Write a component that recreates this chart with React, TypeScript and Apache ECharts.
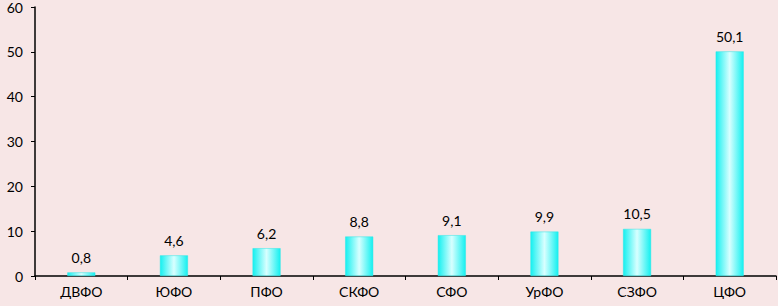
import React, { useEffect, useRef } from "react";
import * as echarts from "echarts";

const categories = ["ДВФО", "ЮФО", "ПФО", "СКФО", "СФО", "УрФО", "СЗФО", "ЦФО"];
const values = [0.8, 4.6, 6.2, 8.8, 9.1, 9.9, 10.5, 50.1];
const yTicks = [0, 10, 20, 30, 40, 50, 60];

export default function App() {
  const ref = useRef<HTMLDivElement>(null);
  useEffect(() => {
    document.body.style.margin = "0";
    const chart = echarts.init(ref.current!, null, { renderer: "svg" });
    const font = "Lato, 'Open Sans', sans-serif";
    chart.setOption({
      animation: false,
      backgroundColor: "#F7E6E6",
      grid: { left: 35, right: 2, top: 5, bottom: 30 },
      xAxis: {
        type: "category",
        data: categories,
        axisLine: { lineStyle: { color: "#000", width: 1.5 } },
        axisTick: { show: true, length: 4, lineStyle: { color: "#000" } },
        axisLabel: { color: "#000", fontSize: 14, fontFamily: font, margin: 8 },
      },
      yAxis: {
        type: "value",
        min: yTicks[0],
        max: yTicks[yTicks.length - 1],
        interval: 10,
        splitLine: { show: false },
        axisLine: { show: true, lineStyle: { color: "#000", width: 1.5 } },
        axisTick: { show: true, length: 4, lineStyle: { color: "#000" } },
        axisLabel: { color: "#000", fontSize: 14, fontFamily: font, margin: 12 },
      },
      series: [
        {
          type: "bar",
          data: values,
          barWidth: 28,
          itemStyle: {
            color: new echarts.graphic.LinearGradient(0, 0, 1, 0, [
              { offset: 0, color: "#14F0F0" },
              { offset: 0.5, color: "#D8FFFF" },
              { offset: 1, color: "#14F0F0" },
            ]),
            borderColor: "#2EE6E6",
            borderWidth: 0.5,
          },
          label: {
            show: true,
            position: "top",
            distance: 8,
            color: "#000",
            fontSize: 14,
            fontFamily: font,
            formatter: (p: any) => String(p.value).replace(".", ","),
          },
        },
      ],
    });
    return () => chart.dispose();
  }, []);
  return <div ref={ref} style={{ width: 778, height: 306 }} />;
}
